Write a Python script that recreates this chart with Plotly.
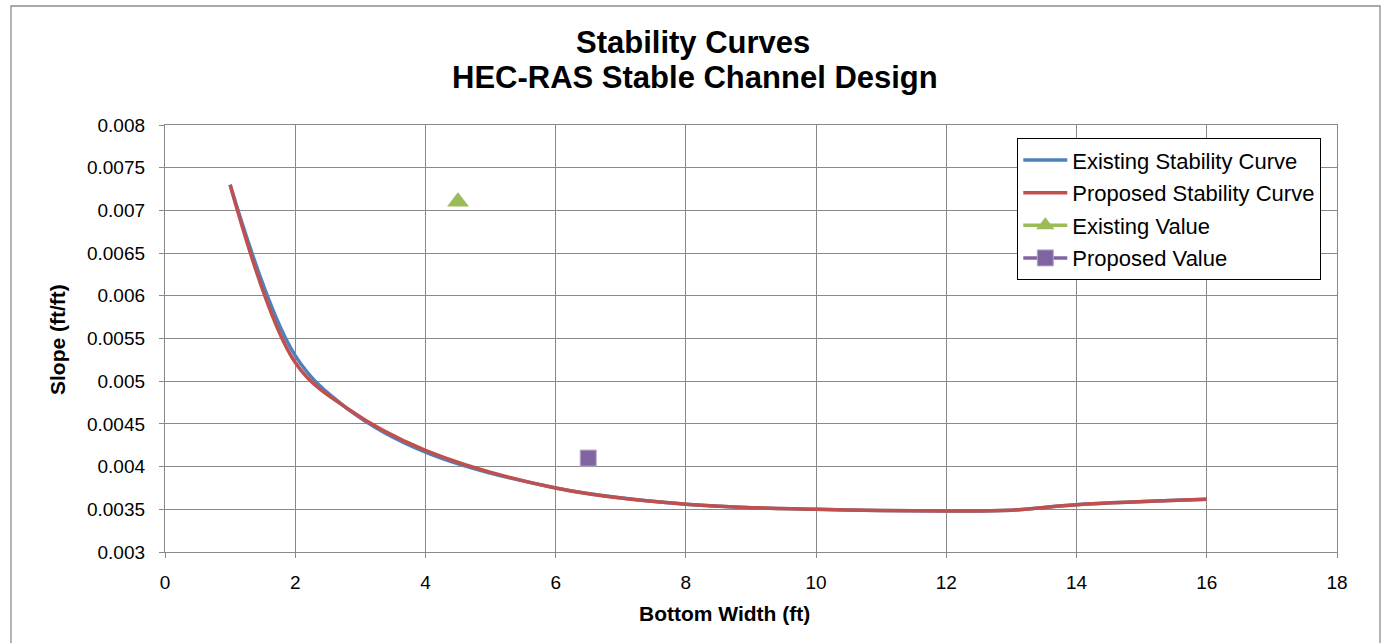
import plotly.graph_objects as go

# Bottom width (ft) and slope (ft/ft) for the stability curves
width_ft = [1, 2, 2.8, 4, 6, 8, 10, 12, 13, 14, 16]
existing_slope = [0.0073, 0.00530, 0.00468, 0.00417, 0.00375, 0.00356, 0.00350, 0.003481, 0.003490, 0.003554, 0.003617]
proposed_slope = [0.0073, 0.00522, 0.00468, 0.00419, 0.00375, 0.00356, 0.00350, 0.003481, 0.003490, 0.003554, 0.003617]

# Design points
existing_value_x = [4.5]
existing_value_y = [0.0071]
proposed_value_x = [6.5]
proposed_value_y = [0.0041]

x_ticks = [0, 2, 4, 6, 8, 10, 12, 14, 16, 18]
y_ticks = [0.003, 0.0035, 0.004, 0.0045, 0.005, 0.0055, 0.006, 0.0065, 0.007, 0.0075, 0.008]
y_tick_text = ["0.003", "0.0035", "0.004", "0.0045", "0.005", "0.0055", "0.006", "0.0065", "0.007", "0.0075", "0.008"]

BLUE = "#4F81BD"
RED = "#C0504D"
GREEN = "#9BBB59"
PURPLE = "#8064A2"
GRID = "#898989"
FONT = "Liberation Sans, Arial, sans-serif"

fig = go.Figure()
fig.add_trace(go.Scatter(
    x=width_ft, y=existing_slope, name="Existing Stability Curve",
    mode="lines", line=dict(color=BLUE, width=3.5, shape="spline", smoothing=1.0),
    legendgroup="a",
))
fig.add_trace(go.Scatter(
    x=width_ft, y=proposed_slope, name="Proposed Stability Curve",
    mode="lines", line=dict(color=RED, width=3.5, shape="spline", smoothing=1.0),
    legendgroup="b",
))
fig.add_trace(go.Scatter(
    x=existing_value_x, y=existing_value_y, name="Existing Value",
    mode="lines+markers", line=dict(color=GREEN, width=3.5),
    marker=dict(symbol="triangle-up", size=19, color=GREEN),
    legendgroup="c",
))
fig.add_trace(go.Scatter(
    x=proposed_value_x, y=proposed_value_y, name="Proposed Value",
    mode="lines+markers", line=dict(color=PURPLE, width=3.5),
    marker=dict(symbol="square", size=16, color=PURPLE, line=dict(color="#B6A6CB", width=1)),
    legendgroup="d",
))

L, R, T, B = 165, 45, 125, 91
W, H = 1382, 643
pw, ph = W - L - R, H - T - B


def px(xp):
    return (xp - L) / pw


def py(yp):
    return (H - B - yp) / ph


fig.update_layout(
    width=W, height=H,
    margin=dict(l=L, r=R, t=T, b=B, pad=0),
    paper_bgcolor="white", plot_bgcolor="white",
    font=dict(family=FONT, color="black", size=19),
    showlegend=True,
    legend=dict(
        x=px(1017), y=py(138), xanchor="left", yanchor="top",
        bordercolor="black", borderwidth=1.3, bgcolor="white",
        font=dict(size=22, family=FONT, color="black"),
        tracegroupgap=1, itemwidth=44,
    ),
    xaxis=dict(
        range=[0, 18], tickvals=x_ticks, showgrid=True, gridcolor=GRID, gridwidth=1.3,
        showline=True, linecolor=GRID, linewidth=1.3, mirror=True,
        ticks="outside", ticklen=5, tickcolor=GRID, tickwidth=1.3,
        ticklabelstandoff=8, zeroline=False,
        tickfont=dict(size=19, family=FONT, color="black"),
    ),
    yaxis=dict(
        range=[0.003, 0.008], tickvals=y_ticks, ticktext=y_tick_text,
        showgrid=True, gridcolor=GRID, gridwidth=1.3,
        showline=True, linecolor=GRID, linewidth=1.3, mirror=True,
        ticks="outside", ticklen=5, tickcolor=GRID, tickwidth=1.3,
        ticklabelstandoff=10, zeroline=False,
        tickfont=dict(size=19, family=FONT, color="black"),
    ),
    shapes=[dict(
        type="rect", xref="paper", yref="paper",
        x0=px(11), x1=px(1380), y0=py(660), y1=py(6),
        line=dict(color="#8C8C8C", width=1.3), fillcolor="rgba(0,0,0,0)", layer="below",
    )],
    annotations=[
        dict(text="<b>Stability Curves</b>", xref="paper", yref="paper",
             x=px(693), y=py(42), xanchor="center", yanchor="middle", showarrow=False,
             font=dict(size=31, family=FONT, color="black")),
        dict(text="<b>HEC-RAS Stable Channel Design</b>", xref="paper", yref="paper",
             x=px(695), y=py(77), xanchor="center", yanchor="middle", showarrow=False,
             font=dict(size=31, family=FONT, color="black")),
        dict(text="<b>Bottom Width (ft)</b>", xref="paper", yref="paper",
             x=px(724.5), y=py(613), xanchor="center", yanchor="middle", showarrow=False,
             font=dict(size=21, family=FONT, color="black")),
        dict(text="<b>Slope (ft/ft)</b>", xref="paper", yref="paper",
             x=px(57), y=py(340), xanchor="center", yanchor="middle", showarrow=False,
             textangle=-90, font=dict(size=21, family=FONT, color="black")),
    ],
)

fig.write_html("out.html")
